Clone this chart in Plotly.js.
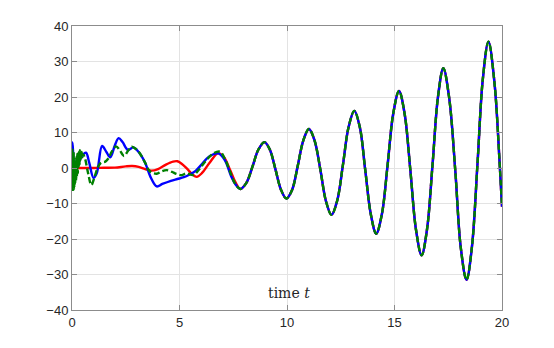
<!DOCTYPE html>
<html>
<head>
<meta charset="utf-8">
<script src="https://cdn.plot.ly/plotly-3.0.1.min.js"></script>
<style>
  html, body { margin: 0; padding: 0; background: #fff; }
  #chart { width: 554px; height: 348px; }
</style>
</head>
<body>
<div id="chart"></div>
<script>
// shared tail: after t ~ 7.8 the three responses lie on top of each other
const tailT = [7.83, 8.11, 8.39, 8.67, 8.95, 9.2, 9.46, 9.72, 9.97, 10.24, 10.5, 10.76, 11.02, 11.28, 11.55, 11.81,
  12.07, 12.33, 12.6, 12.86, 13.13, 13.39, 13.64, 13.9, 14.15, 14.41, 14.68, 14.94, 15.21, 15.47, 15.74, 16.0,
  16.26, 16.51, 16.77, 17.02, 17.27, 17.54, 17.83, 18.08, 18.35, 18.6, 18.86, 19.11, 19.37, 19.65, 19.88, 20.0];
const tailV = [-5.9, -4.2, 0.3, 5.2, 7.3, 5.2, -0.3, -6.1, -8.6, -6.1, 0.6, 7.8, 11.0, 7.8, -0.4, -9.3,
  -13.2, -9.3, 0.8, 11.4, 16.1, 11.4, -0.6, -13.1, -18.5, -13.1, 0.9, 15.3, 21.7, 15.3, -0.8, -17.4,
  -24.6, -17.4, 1.0, 19.9, 28.1, 19.9, -1.0, -22.3, -31.5, -22.3, 1.2, 25.2, 35.6, 24.0, 2.5, -10.9];

// red (solid)
const redT = [0, 0.5, 1.0, 1.5, 2.0, 2.5, 2.8, 3.1, 3.4, 3.7, 4.0, 4.35, 4.7, 4.9, 5.1, 5.35, 5.6, 5.8, 6.05, 6.4, 6.8, 7.05, 7.35, 7.6];
const redV = [0, 0, 0, 0.05, 0.1, 0.45, 0.55, 0.3, -0.3, -0.75, -0.3, 0.9, 1.8, 1.9, 1.2, -0.2, -1.8, -2.5, -1.4, 1.5, 4.2, 3.2, -0.5, -4.0];

// blue (solid)
const blueT = [0, 0.02, 0.08, 0.15, 0.25, 0.45, 0.65, 0.8, 1.0, 1.15, 1.4, 1.6, 1.78, 2.0, 2.17, 2.35, 2.6, 2.85, 3.1, 3.4, 3.65, 3.94,
  4.2, 4.6, 4.9, 5.2, 5.45, 5.75, 6.0, 6.4, 6.8, 7.1, 7.4, 7.6];
const blueV = [-1, 7.2, 2, -0.5, 0.5, 3.3, 4.3, 1.5, -2.8, -1.5, 6.2, 4.5, 3.0, 6.5, 8.4, 7.3, 5.1, 5.8, 4.5, 1.5, -2.5, -5.2,
  -4.5, -3.6, -3.1, -2.6, -1.9, -0.8, 0.8, 3.3, 4.1, 2.3, -2.3, -4.6];

// green (dashed)
const greenT = [0, 0.015, 0.03, 0.045, 0.06, 0.075, 0.09, 0.105, 0.12, 0.135, 0.15, 0.17, 0.19, 0.21, 0.23, 0.25, 0.27, 0.29,
  0.31, 0.33, 0.35, 0.37, 0.39, 0.41, 0.43, 0.45, 0.48, 0.52, 0.6, 0.75, 0.9, 1.05, 1.2, 1.35, 1.55, 1.7, 1.85, 2.05, 2.22,
  2.42, 2.6, 2.78, 3.0, 3.16, 3.4, 3.63, 3.94, 4.15, 4.4, 4.65, 4.87, 5.1, 5.33, 5.64, 5.9, 6.26, 6.6, 6.88, 7.1, 7.4, 7.6];
const greenV = [-2, 5.5, -6.5, 3, -5.8, 4.5, -6, 1.5, -5, 2.5, -4.2, 1.8, -3.6, 3.2, -2.5, 4.0, -1.5, 3.5,
  0.5, 4.5, 1.0, 5.0, 2.2, 4.2, 2.5, 4.5, 3.0, 3.8, 2.8, -1.5, -4.8, -2.5, 0.2, 1.5, 1.8, 2.8, 4.6, 6.1, 5.0,
  3.4, 4.8, 6.0, 5.2, 4.1, 1.5, -1.0, -1.6, -1.0, -0.6, -1.1, -1.7, -2.0, -1.5, -2.0, -0.5, 2.3, 4.2, 4.6, 2.7, -1.8, -4.6];

const xTicks = [0, 5, 10, 15, 20];
const yTicks = [-40, -30, -20, -10, 0, 10, 20, 30, 40];

function series(t, v, color, dash) {
  return {
    x: t.concat(tailT), y: v.concat(tailV),
    mode: 'lines', type: 'scatter',
    line: { color: color, width: 2.4, dash: dash, shape: 'spline', smoothing: 1 },
    hoverinfo: 'skip'
  };
}

const axisCommon = {
  showline: true, linecolor: '#8c8c8c', linewidth: 1, mirror: 'ticks',
  ticks: 'inside', ticklen: 5, tickcolor: '#8c8c8c',
  showgrid: true, gridcolor: '#e3e3e3', gridwidth: 1,
  zeroline: false,
  tickfont: { family: 'Liberation Sans, Arial, sans-serif', size: 13, color: '#262626' }
};

const layout = {
  width: 554, height: 348,
  margin: { l: 72, r: 52, t: 26, b: 38 },
  paper_bgcolor: '#ffffff', plot_bgcolor: '#ffffff',
  showlegend: false,
  xaxis: { ...axisCommon, range: [0, 20], tickvals: xTicks },
  yaxis: { ...axisCommon, range: [-40, 40], tickvals: yTicks },
  annotations: [{
    text: 'time <i>t</i>', xref: 'paper', yref: 'paper',
    x: 0.505, y: 0.06, xanchor: 'center', yanchor: 'middle', showarrow: false,
    font: { family: 'DejaVu Serif, Liberation Serif, serif', size: 14, color: '#262626' }
  }]
};

Plotly.newPlot('chart', [
  series(redT, redV, '#ff0000', 'solid'),
  series(blueT, blueV, '#0000ff', 'solid'),
  series(greenT, greenV, '#008000', '6px,3px')
], layout, { staticPlot: true, displayModeBar: false });
</script>
</body>
</html>
